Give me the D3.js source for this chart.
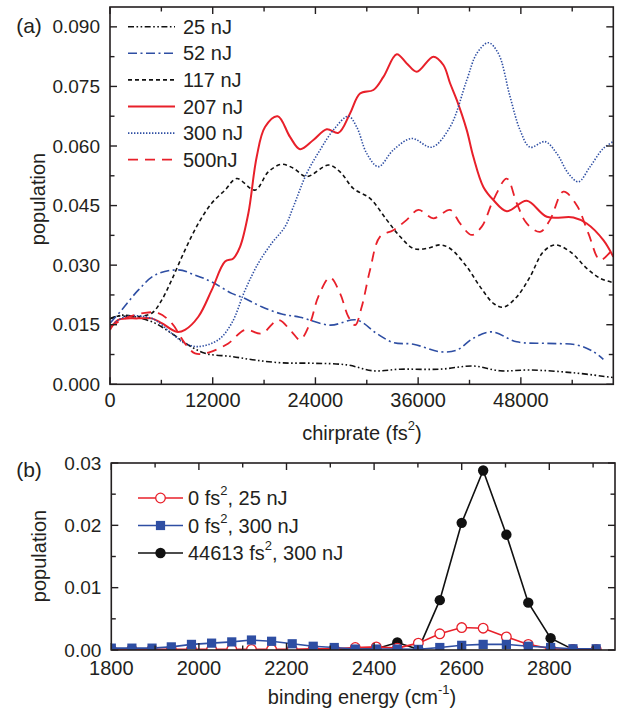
<!DOCTYPE html>
<html><head><meta charset="utf-8">
<script src="https://cdn.jsdelivr.net/npm/d3@7"></script>
<style>
html,body{margin:0;padding:0;background:#fff;}
svg text{font-family:"Liberation Sans",Arial,sans-serif;fill:#231f20;}
</style></head>
<body>
<svg id="chart" width="618" height="713"></svg>
<script>
// ---------- Panel (a) data: chirprate (fs^2) vs population ----------
const x25 = [0,1360,3300,5260,7210,9150,11100,14220,16940,20060,23760,27650,30770,33890,38560,42450,45570,49080,54140,58430,58800];
const y25 = [0.0165,0.0174,0.0168,0.0154,0.0128,0.0099,0.0078,0.0070,0.0061,0.0054,0.0053,0.0049,0.0034,0.0038,0.0038,0.0046,0.0034,0.0036,0.0029,0.0018,0.0017];

const x52 = [0,1360,3300,5260,7990,9930,11880,14220,15780,17720,20060,22200,25710,28820,31160,33100,35440,38560,40510,42450,44600,47520,51030,54530,56480,57640];
const y52 = [0.0154,0.0187,0.0237,0.0275,0.0288,0.0275,0.0258,0.0229,0.0216,0.0195,0.0177,0.0169,0.0149,0.0162,0.0128,0.0105,0.0101,0.0082,0.0086,0.0116,0.0132,0.0107,0.0103,0.0099,0.0082,0.0063];

const x117 = [0,970,2920,4870,6040,7210,8760,10320,11880,13440,14800,16940,18500,20060,21420,22980,25510,26880,28430,30380,32330,33890,35440,37000,38560,39730,41680,43230,44790,45960,47520,49080,50630,52000,53750,55700,57260,58800];
const y117 = [0.0165,0.0172,0.0170,0.0179,0.0212,0.0263,0.0338,0.0405,0.0456,0.0489,0.0518,0.0489,0.0535,0.0554,0.0544,0.0523,0.0552,0.0535,0.0493,0.0468,0.0414,0.0372,0.0342,0.0342,0.0351,0.0342,0.0296,0.0246,0.0204,0.0194,0.0220,0.0271,0.0334,0.0351,0.0334,0.0292,0.0267,0.0256];

const x207 = [0,970,3300,4870,6040,7790,8760,10320,11880,13440,14410,15190,16160,17140,18110,19590,21030,22200,23760,25320,26680,28040,29210,30770,31940,33500,34670,35840,37780,38950,39730,40510,41680,42450,43620,44790,46350,48690,51030,54140,55700,57640,58800];
const y207 = [0.0137,0.0162,0.0166,0.0166,0.0154,0.0132,0.0137,0.0170,0.0237,0.0309,0.0317,0.0346,0.0430,0.0573,0.0648,0.0675,0.0623,0.0592,0.0615,0.0642,0.0633,0.0682,0.0732,0.0741,0.0774,0.0831,0.0808,0.0787,0.0825,0.0804,0.0758,0.0716,0.0640,0.0573,0.0497,0.0464,0.0436,0.0462,0.0422,0.0420,0.0405,0.0363,0.0321];

const x300 = [0,1750,4870,7210,8760,10320,12660,14220,15780,17330,18890,20450,21420,22980,24540,26090,27850,28820,30000,31350,33100,35250,37590,39730,41680,42850,44200,45370,46740,47910,49080,50830,52200,53550,54720,56090,57640,58800];
const y300 = [0.0145,0.0170,0.0166,0.0128,0.0103,0.0095,0.0112,0.0154,0.0237,0.0305,0.0355,0.0397,0.0447,0.0531,0.0590,0.0640,0.0675,0.0648,0.0581,0.0548,0.0590,0.0619,0.0597,0.0648,0.0766,0.0833,0.0860,0.0833,0.0724,0.0640,0.0597,0.0611,0.0581,0.0531,0.0510,0.0548,0.0594,0.0611];

const x500 = [0,1750,4090,5650,7210,8760,9930,11490,13820,15780,17720,19670,21230,22200,23370,24340,25710,26880,27850,28630,29410,30380,31550,33100,34670,36030,37780,39730,40900,42260,43430,44790,46350,47520,48690,50250,51410,52970,54530,55890,57260,58630];
const y500 = [0.0145,0.0166,0.0180,0.0179,0.0154,0.0103,0.0078,0.0080,0.0103,0.0137,0.0128,0.0162,0.0132,0.0112,0.0154,0.0221,0.0269,0.0229,0.0170,0.0149,0.0195,0.0288,0.0372,0.0388,0.0414,0.0439,0.0418,0.0439,0.0405,0.0376,0.0397,0.0464,0.0518,0.0456,0.0405,0.0384,0.0414,0.0485,0.0451,0.0380,0.0313,0.0338];

const seriesNamesA = ["25 nJ","52 nJ","117 nJ","207 nJ","300 nJ","500nJ"];
const xTicksA = [0,12000,24000,36000,48000];
const yTicksA = [0,0.015,0.030,0.045,0.060,0.075,0.090];

// ---------- Panel (b) data: binding energy (cm^-1) vs population ----------
const energyB = [1800,1847,1893,1937,1983,2029,2075,2120,2166,2213,2261,2309,2357,2405,2453,2501,2550,2600,2649,2702,2752,2803,2854,2907];
const red25B  = [0.0001,0.0001,0.0001,0.0001,0.0001,0.0001,0.0001,0.0001,0.0001,0.0001,0.0002,0.0002,0.0004,0.0005,0.0003,0.0011,0.0026,0.0036,0.0035,0.0021,0.0009,0.0002,0.0001,0.0001];
const blue300B = [0.0003,0.0003,0.0003,0.0005,0.0009,0.0011,0.0013,0.0016,0.0014,0.0010,0.0006,0.0004,0.00015,0.00015,0.00015,0.0001,0.0004,0.00075,0.0009,0.0009,0.0006,0.0004,0.0002,0.0002];
const black44613B = [0,0,0,0,0,0,0,0,0,0,0,0,0.0001,0.0002,0.0012,0.0001,0.0080,0.0204,0.0288,0.0185,0.0076,0.0019,0.0001,0];
const seriesNamesB = ["0 fs|, 25 nJ","0 fs|, 300 nJ","44613 fs|, 300 nJ"];
const xTicksB = [1800,2000,2200,2400,2600,2800];
const yTicksB = [0,0.01,0.02,0.03];

// ---------- drawing ----------
const RED = "#e8202a", BLUE = "#2e4ea3", BLACK = "#111";
const svg = d3.select("#chart");
const FONT_XTICK = 20, FONT_YTICK = 19, FONT_TITLE = 20;

function frame(g, x, y, xMajor, xMinorStep, yMajor, yMinorStep, opts){
  const [x0,x1] = x.range(), [y0,y1] = y.range();
  const xd = x.domain(), yd = y.domain();
  const xAll = d3.range(Math.ceil(xd[0]/xMinorStep)*xMinorStep, xd[1]+1e-9, xMinorStep);
  const yAll = d3.range(0, yd[1]+1e-12, yMinorStep).map(v=>+v.toFixed(6));
  const isMaj = (arr,v)=>arr.some(a=>Math.abs(a-v)<1e-9);
  const tk = g.append("g").attr("stroke","#231f20").attr("stroke-width",1.4);
  xAll.forEach(v=>{
    const L = isMaj(xMajor,v)?7:4.5;
    tk.append("line").attr("x1",x(v)).attr("x2",x(v)).attr("y1",y0).attr("y2",y0-L);
    tk.append("line").attr("x1",x(v)).attr("x2",x(v)).attr("y1",y1).attr("y2",y1+L);
  });
  yAll.forEach(v=>{
    const L = isMaj(yMajor,v)?7:4.5;
    tk.append("line").attr("y1",y(v)).attr("y2",y(v)).attr("x1",x0).attr("x2",x0+L);
    tk.append("line").attr("y1",y(v)).attr("y2",y(v)).attr("x1",x1).attr("x2",x1-L);
  });
  g.append("rect").attr("x",x0).attr("y",y1).attr("width",x1-x0).attr("height",y0-y1)
    .attr("fill","none").attr("stroke","#231f20").attr("stroke-width",1.6);
  xMajor.forEach(v=>{
    g.append("text").attr("x",x(v)).attr("y",y0+opts.xLabOff).attr("text-anchor","middle")
      .attr("dominant-baseline","central").attr("font-size",FONT_XTICK).text(opts.xFmt(v));
  });
  yMajor.forEach(v=>{
    g.append("text").attr("x",x0-10).attr("y",y(v)).attr("text-anchor","end")
      .attr("dominant-baseline","central").attr("font-size",FONT_YTICK).text(opts.yFmt(v));
  });
}

// Panel (a)
const xA = d3.scaleLinear().domain([0,58800]).range([110,613.3]);
const yA = d3.scaleLinear().domain([0,0.0950]).range([384.3,7]);
const gA = svg.append("g");
svg.append("clipPath").attr("id","clipA").append("rect").attr("x",110).attr("y",7).attr("width",503.3).attr("height",377.3);
const lineA = d3.line().x(d=>xA(d[0])).y(d=>yA(d[1])).curve(d3.curveCatmullRom.alpha(0.5));
const styleA = [
  {xs:x25,ys:y25,color:BLACK,dash:"6,2.5,1.6,2.5,1.6,2.5",w:1.6},
  {xs:x52,ys:y52,color:BLUE,dash:"9,3.5,2,3.5",w:1.6},
  {xs:x117,ys:y117,color:BLACK,dash:"4,3",w:1.6},
  {xs:x207,ys:y207,color:RED,dash:null,w:2},
  {xs:x300,ys:y300,color:BLUE,dash:"1.4,1.6",w:1.6},
  {xs:x500,ys:y500,color:RED,dash:"10,7",w:1.8}
];
const curvesA = gA.append("g").attr("clip-path","url(#clipA)");
styleA.forEach(s=>{
  const pts = s.xs.map((v,i)=>[v,s.ys[i]]);
  curvesA.append("path").attr("d",lineA(pts)).attr("fill","none").attr("stroke",s.color)
    .attr("stroke-width",s.w).attr("stroke-dasharray",s.dash);
});
frame(gA, xA, yA, xTicksA, 6000, yTicksA, 0.0075,
  {xLabOff:16, xFmt:v=>String(v), yFmt:v=>d3.format(".3f")(v)});
// legend (a)
const legA = gA.append("g");
seriesNamesA.forEach((n,i)=>{
  const yy = 26.7 + i*26.6;
  const s = styleA[i];
  legA.append("line").attr("x1",128).attr("x2",175).attr("y1",yy).attr("y2",yy)
    .attr("stroke",s.color).attr("stroke-width",s.w).attr("stroke-dasharray",s.dash);
  legA.append("text").attr("x",183).attr("y",yy).attr("dominant-baseline","central")
    .attr("font-size",FONT_TITLE).text(n);
});
// titles (a)
svg.append("text").attr("x",29).attr("y",25).attr("text-anchor","middle").attr("dominant-baseline","central")
  .attr("font-size",21).text("(a)");
const tA = svg.append("text").attr("x",362).attr("y",433).attr("text-anchor","middle")
  .attr("dominant-baseline","central").attr("font-size",FONT_TITLE);
tA.append("tspan").text("chirprate (fs");
tA.append("tspan").attr("font-size",13).attr("dy",-8).text("2");
tA.append("tspan").attr("dy",8).text(")");
svg.append("text").attr("transform","translate(38,199) rotate(-90)").attr("text-anchor","middle")
  .attr("dominant-baseline","central").attr("font-size",FONT_TITLE).text("population");

// Panel (b)
const xB = d3.scaleLinear().domain([1800,2950]).range([111.3,615]);
const yB = d3.scaleLinear().domain([0,0.03]).range([650,463]);
const gB = svg.append("g");
svg.append("clipPath").attr("id","clipB").append("rect").attr("x",111.3).attr("y",463).attr("width",503.7).attr("height",187);
const lineB = d3.line().x(d=>xB(d[0])).y(d=>yB(d[1]));
const styleB = [
  {ys:red25B,color:RED,marker:"openCircle"},
  {ys:blue300B,color:BLUE,marker:"square"},
  {ys:black44613B,color:BLACK,marker:"circle"}
];
const drawOrder = [2,0,1];
const plotB = gB.append("g").attr("clip-path","url(#clipB)");
function marker(g, kind, color, cx, cy){
  if(kind==="square"){
    g.append("rect").attr("x",cx-4.6).attr("y",cy-4.6).attr("width",9.2).attr("height",9.2).attr("fill",color);
  } else if(kind==="circle"){
    g.append("circle").attr("cx",cx).attr("cy",cy).attr("r",5.2).attr("fill",color);
  } else {
    g.append("circle").attr("cx",cx).attr("cy",cy).attr("r",4.8).attr("fill","#fff").attr("stroke",color).attr("stroke-width",1.3);
  }
}
drawOrder.forEach(k=>{
  const s = styleB[k];
  const pts = energyB.map((v,i)=>[v,s.ys[i]]);
  plotB.append("path").attr("d",lineB(pts)).attr("fill","none").attr("stroke",s.color).attr("stroke-width",1.6);
  pts.forEach(p=>marker(plotB, s.marker, s.color, xB(p[0]), yB(p[1])));
});
frame(gB, xB, yB, xTicksB, 100, yTicksB, 0.005,
  {xLabOff:17.5, xFmt:v=>String(v), yFmt:v=>d3.format(".2f")(v)});
// legend (b)
const legB = gB.append("g");
seriesNamesB.forEach((n,i)=>{
  const yy = 498 + i*27.5;
  const s = styleB[i];
  legB.append("line").attr("x1",138).attr("x2",183).attr("y1",yy).attr("y2",yy).attr("stroke",s.color).attr("stroke-width",1.6);
  marker(legB, s.marker, s.color, 160.5, yy);
  const parts = n.split("|");
  const t = legB.append("text").attr("x",188).attr("y",yy).attr("dominant-baseline","central").attr("font-size",FONT_TITLE);
  t.append("tspan").text(parts[0]);
  t.append("tspan").attr("font-size",13).attr("dy",-8).text("2");
  t.append("tspan").attr("dy",8).text(parts[1]);
});
svg.append("text").attr("x",29).attr("y",469).attr("text-anchor","middle").attr("dominant-baseline","central")
  .attr("font-size",21).text("(b)");
const tB = svg.append("text").attr("x",362).attr("y",697).attr("text-anchor","middle")
  .attr("dominant-baseline","central").attr("font-size",FONT_TITLE);
tB.append("tspan").text("binding energy (cm");
tB.append("tspan").attr("font-size",13).attr("dy",-8).text("-1");
tB.append("tspan").attr("dy",8).text(")");
svg.append("text").attr("transform","translate(39,556) rotate(-90)").attr("text-anchor","middle")
  .attr("dominant-baseline","central").attr("font-size",FONT_TITLE).text("population");
</script>
</body></html>
